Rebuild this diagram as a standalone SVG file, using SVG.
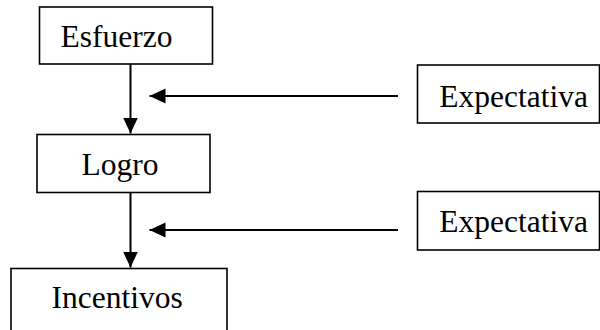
<svg xmlns="http://www.w3.org/2000/svg" width="600" height="330" viewBox="0 0 600 330">
  <style>
    .box { fill: #ffffff; stroke: #000000; stroke-width: 1.6; }
    .lbl { font-family: "Liberation Serif", "Times New Roman", serif; font-size: 31.5px; fill: #000000; }
    .wire { fill: none; stroke: #000000; stroke-width: 2; }
  </style>
  <defs>
    <marker id="head" markerUnits="userSpaceOnUse" markerWidth="16" markerHeight="16" refX="16" refY="7.5" orient="auto">
      <path d="M0,0 L16,7.5 L0,15 Z" fill="#000000"/>
    </marker>
  </defs>

  <g id="connectors">
    <line class="wire" x1="130.5" y1="64" x2="130.5" y2="133.5" marker-end="url(#head)"/>
    <line class="wire" x1="130.5" y1="192.5" x2="130.5" y2="267.5" marker-end="url(#head)"/>
    <line class="wire" x1="398" y1="96" x2="149.5" y2="96" marker-end="url(#head)"/>
    <line class="wire" x1="398" y1="230" x2="149.5" y2="230" marker-end="url(#head)"/>
  </g>

  <g id="esfuerzo">
    <rect class="box" x="39.5" y="7" width="173" height="57"/>
    <text class="lbl" x="60.5" y="46.7">Esfuerzo</text>
  </g>

  <g id="logro">
    <rect class="box" x="37" y="134.5" width="173" height="58"/>
    <text class="lbl" x="81.5" y="175">Logro</text>
  </g>

  <g id="incentivos">
    <rect class="box" x="11" y="268.5" width="216" height="70"/>
    <text class="lbl" x="51.5" y="308.3">Incentivos</text>
  </g>

  <g id="expectativa-1">
    <rect class="box" x="417.5" y="65" width="182" height="58"/>
    <text class="lbl" x="439.3" y="106.7">Expectativa</text>
  </g>

  <g id="expectativa-2">
    <rect class="box" x="417.5" y="191.5" width="182" height="58.5"/>
    <text class="lbl" x="439.3" y="231.7">Expectativa</text>
  </g>
</svg>
